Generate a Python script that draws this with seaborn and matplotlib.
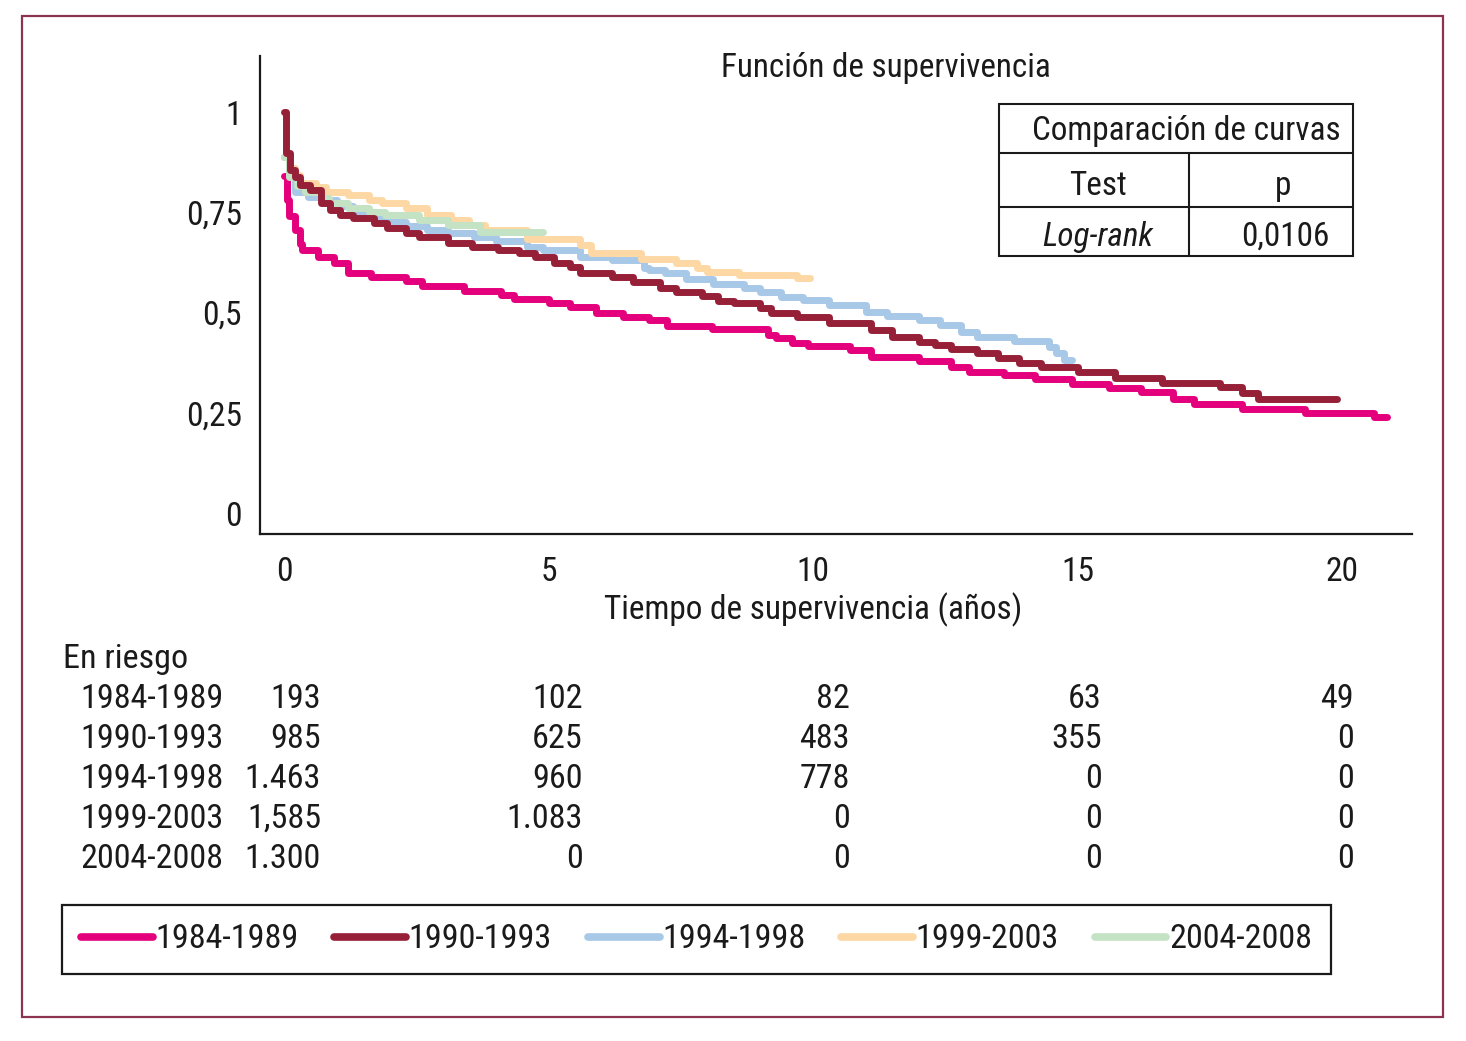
import pandas as pd
import numpy as np
import matplotlib
matplotlib.use('Agg')
import matplotlib.pyplot as plt
from matplotlib import font_manager
from matplotlib.lines import Line2D
from matplotlib.patches import Rectangle
import seaborn as sns

# survival curves (time in years, survival)
periods = ['1984-1989', '1990-1993', '1994-1998', '1999-2003', '2004-2008']
colors = ['#e4007c', '#962038', '#a8c8e8', '#fdd8a5', '#c4e2c4']

t_8489 = [0, 0.05, 0.1, 0.2, 0.3, 0.34, 0.64, 0.95, 1.2, 1.65, 2.3, 2.6, 3.4, 4.1,
          4.35, 5.0, 5.4, 5.9, 6.4, 6.9, 7.24, 8.09, 9.15, 9.3, 9.6, 9.9, 10.7,
          11.1, 12.0, 12.6, 12.95, 13.6, 14.2, 14.9, 15.6, 16.2, 16.8, 17.2,
          18.1, 19.3, 20.6, 20.85]
s_8489 = [0.84, 0.78, 0.74, 0.705, 0.67, 0.656, 0.64, 0.623, 0.60, 0.59, 0.58,
          0.566, 0.554, 0.544, 0.534, 0.524, 0.514, 0.50, 0.49, 0.481, 0.466,
          0.459, 0.444, 0.436, 0.424, 0.416, 0.406, 0.39, 0.38, 0.364, 0.352,
          0.344, 0.334, 0.322, 0.312, 0.302, 0.284, 0.272, 0.259, 0.249, 0.239,
          0.239]

t_9093 = [0, 0.03, 0.11, 0.2, 0.3, 0.5, 0.7, 0.87, 1.06, 1.3, 1.7, 1.95, 2.3,
          2.55, 3.1, 3.55, 4.05, 4.45, 4.75, 5.1, 5.4, 5.6, 6.2, 6.6, 7.1, 7.4,
          7.9, 8.2, 8.5, 9.0, 9.2, 9.7, 10.3, 11.1, 11.5, 12.0, 12.3, 12.6,
          13.1, 13.5, 13.9, 14.3, 15.0, 15.7, 16.6, 17.7, 18.1, 18.4, 19.9]
s_9093 = [1.0, 0.898, 0.855, 0.838, 0.818, 0.805, 0.773, 0.756, 0.743, 0.735,
          0.723, 0.711, 0.698, 0.688, 0.673, 0.663, 0.656, 0.648, 0.638, 0.623,
          0.613, 0.60, 0.589, 0.576, 0.561, 0.551, 0.541, 0.529, 0.524, 0.511,
          0.499, 0.489, 0.474, 0.456, 0.439, 0.426, 0.419, 0.409, 0.399, 0.387,
          0.374, 0.364, 0.352, 0.337, 0.325, 0.314, 0.299, 0.284, 0.284]

t_9498 = [0, 0.1, 0.2, 0.45, 0.7, 1.0, 1.3, 1.75, 1.9, 2.3, 2.7, 3.1, 3.6, 4.0,
          4.6, 4.9, 5.6, 6.2, 6.8, 6.9, 7.2, 7.6, 8.1, 8.7, 9.0, 9.4, 9.8, 10.3,
          11.0, 11.4, 12.0, 12.4, 12.8, 13.1, 13.8, 14.45, 14.6, 14.75, 14.9]
s_9498 = [0.888, 0.84, 0.80, 0.788, 0.78, 0.765, 0.75, 0.736, 0.726, 0.716,
          0.706, 0.698, 0.688, 0.678, 0.663, 0.656, 0.638, 0.631, 0.611, 0.606,
          0.598, 0.584, 0.571, 0.561, 0.551, 0.539, 0.531, 0.519, 0.501, 0.491,
          0.481, 0.469, 0.451, 0.439, 0.429, 0.414, 0.399, 0.382, 0.382]

t_9903 = [0, 0.1, 0.2, 0.3, 0.6, 0.8, 1.2, 1.6, 1.85, 2.3, 2.7, 3.15, 3.5, 3.8,
          4.6, 5.6, 5.8, 6.75, 7.4, 7.8, 8.0, 8.6, 9.7, 9.95]
s_9903 = [0.888, 0.86, 0.843, 0.823, 0.813, 0.80, 0.793, 0.781, 0.773, 0.761,
          0.743, 0.731, 0.718, 0.706, 0.683, 0.668, 0.648, 0.633, 0.623, 0.611,
          0.601, 0.593, 0.586, 0.586]

t_0408 = [0, 0.1, 0.25, 0.4, 0.7, 0.85, 1.2, 1.6, 1.9, 2.55, 3.1, 3.7, 4.9]
s_0408 = [0.888, 0.838, 0.815, 0.80, 0.786, 0.773, 0.761, 0.751, 0.743, 0.731,
          0.718, 0.701, 0.701]

times = [t_8489, t_9093, t_9498, t_9903, t_0408]
survs = [s_8489, s_9093, s_9498, s_9903, s_0408]

# numbers at risk
risk_times = [0, 5, 10, 15, 20]
risk_8489 = ['193', '102', '82', '63', '49']
risk_9093 = ['985', '625', '483', '355', '0']
risk_9498 = ['1.463', '960', '778', '0', '0']
risk_9903 = ['1,585', '1.083', '0', '0', '0']
risk_0408 = ['1.300', '0', '0', '0', '0']
risk_rows = [risk_8489, risk_9093, risk_9498, risk_9903, risk_0408]

y_ticks = [0, 0.25, 0.5, 0.75, 1]
y_ticklabels = ['0', '0,25', '0,5', '0,75', '1']

frames = []
for p, t, s in zip(periods, times, survs):
    frames.append(pd.DataFrame({'periodo': p, 'tiempo': t, 'superv': s}))
df = pd.concat(frames, ignore_index=True)

# a condensed sans face, as close to Helvetica Condensed as is installed
installed = {f.name for f in font_manager.fontManager.ttflist}
font = 'DejaVu Sans'
for cand in ['Liberation Sans Narrow', 'Roboto Condensed', 'Pragati Narrow',
             'Archivo Narrow', 'Arimo', 'Roboto']:
    if cand in installed:
        font = cand
        break

sns.set_theme(style='white')
plt.rcParams['font.family'] = [font, 'DejaVu Sans']
plt.rcParams['text.color'] = '#1a1a1a'

W, H = 1466, 1041
fig = plt.figure(figsize=(W / 100, H / 100), dpi=100)
renderer = fig.canvas.get_renderer()


def fx(px):
    return px / W


def fy(py):
    return 1 - py / H


def fit(s, width_px, **kw):
    # font size that gives the text the width it has in the reference
    t = fig.text(0, 0, s, fontsize=20, **kw)
    w = t.get_window_extent(renderer).width
    t.remove()
    return 20 * width_px / w


fs_tick = fit('0,75', 56)
fs_title = fit('Función de supervivencia', 330)
fs_xlab = fit('Tiempo de supervivencia (años)', 418)
fs_tab = fit('Comparación de curvas', 308)
fs_risk = fit('1984-1989', 143)

ax = fig.add_axes([fx(260), fy(534), fx(1412) - fx(260), fy(56) - fy(534)])

palette = dict(zip(periods, colors))
# dark red drawn on top, as in the reference
order = ['1984-1989', '1994-1998', '1999-2003', '2004-2008', '1990-1993']
for z, p in enumerate(order):
    sns.lineplot(data=df[df['periodo'] == p], x='tiempo', y='superv',
                 color=palette[p], lw=5, drawstyle='steps-post',
                 estimator=None, sort=False, ax=ax, zorder=2 + z)

ax.set_xlim(-0.454, 21.32)
ax.set_ylim(-0.052, 1.14)
ax.set_xticks(risk_times)
ax.set_xticklabels([str(v) for v in risk_times])
ax.set_yticks(y_ticks)
ax.set_yticklabels(y_ticklabels)
ax.tick_params(axis='both', direction='out', length=8, width=1.5,
               color='#1a1a1a', labelsize=fs_tick, labelcolor='#1a1a1a', pad=5)
ax.tick_params(axis='x', pad=8)
for side in ['top', 'right']:
    ax.spines[side].set_visible(False)
for side in ['left', 'bottom']:
    ax.spines[side].set_color('#1a1a1a')
    ax.spines[side].set_linewidth(1.6)
ax.set_xlabel('')
ax.set_ylabel('')

fig.text(fx(886), fy(68), 'Función de supervivencia', ha='center',
         va='center', fontsize=fs_title)
fig.text(fx(813), fy(610), 'Tiempo de supervivencia (años)', ha='center',
         va='center', fontsize=fs_xlab)

# comparison table
tab = fig.add_axes([fx(999), fy(256), fx(1353) - fx(999), fy(104) - fy(256)])
tab.set_xlim(999, 1353)
tab.set_ylim(256, 104)
tab.axis('off')
tab.add_patch(Rectangle((999, 104), 354, 152, fill=False, lw=1.5,
                        edgecolor='#1a1a1a', clip_on=False))
tab.plot([999, 1353], [153, 153], color='#1a1a1a', lw=1.5)
tab.plot([999, 1353], [207, 207], color='#1a1a1a', lw=1.5)
tab.plot([1189, 1189], [153, 256], color='#1a1a1a', lw=1.5)
tab.text(1186, 131, 'Comparación de curvas', ha='center', va='center',
         fontsize=fs_tab)
tab.text(1098, 186, 'Test', ha='center', va='center', fontsize=fs_tab)
tab.text(1283, 186, 'p', ha='center', va='center', fontsize=fs_tab)
tab.text(1098, 237, 'Log-rank', ha='center', va='center', fontsize=fs_tab,
         style='italic')
tab.text(1285, 237, '0,0106', ha='center', va='center', fontsize=fs_tab)

# at-risk table
fig.text(fx(63), fy(659), 'En riesgo', ha='left', va='center', fontsize=fs_risk)
col_right = [321, 583, 850, 1102, 1354]
row_y = [699, 739, 779, 819, 859]
for p, vals, yy in zip(periods, risk_rows, row_y):
    fig.text(fx(80), fy(yy), p, ha='left', va='center', fontsize=fs_risk)
    for v, xr in zip(vals, col_right):
        fig.text(fx(xr), fy(yy), v, ha='right', va='center', fontsize=fs_risk)

# legend
handles = [Line2D([0], [0], color=c, lw=5.5) for c in colors]
leg = fig.legend(handles, periods, loc='center', mode='expand', ncol=5,
                 bbox_to_anchor=(fx(62), fy(977), fx(1331) - fx(62),
                                 fy(902) - fy(977)),
                 frameon=True, fancybox=False, framealpha=1,
                 fontsize=fs_risk, handlelength=2.1, handletextpad=0.08,
                 columnspacing=1.0, borderpad=0.55, borderaxespad=0)
leg.get_frame().set_edgecolor('#1a1a1a')
leg.get_frame().set_linewidth(1.6)

# outer frame
fig.add_artist(Rectangle((fx(22), fy(1017)), fx(1443) - fx(22),
                         fy(16) - fy(1017), transform=fig.transFigure,
                         fill=False, edgecolor='#8c3350', lw=1.6))

fig.savefig('out.png', dpi=100)
